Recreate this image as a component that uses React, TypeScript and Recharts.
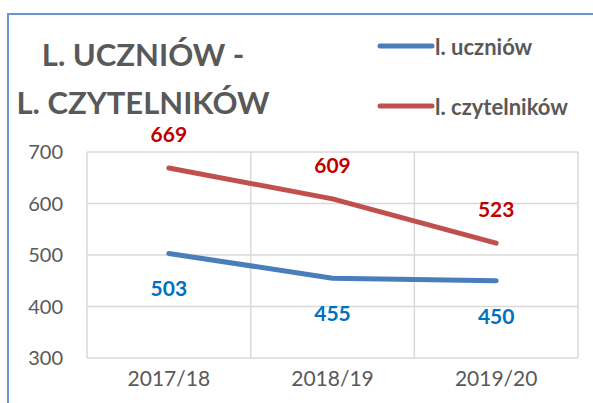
import React from 'react';
import { LineChart, Line, XAxis, YAxis, CartesianGrid, LabelList, Legend } from 'recharts';

const categories = ['2017/18', '2018/19', '2019/20'];
const uczniow = [503, 455, 450];
const czytelnikow = [669, 609, 523];
const yTicks = [300, 400, 500, 600, 700];
const titleLines = ['L. UCZNIÓW -', 'L. CZYTELNIKÓW'];
const seriesOrder = ['u', 'c'];

const data = categories.map((c, i) => ({ cat: c, u: uczniow[i], c: czytelnikow[i] }));

const FONT = 'Lato, "Open Sans", sans-serif';
const CHART_W = 593;
const PLOT_LEFT = 87;
const PLOT_RIGHT_MARGIN = 15;
const HALF_BAND = (CHART_W - PLOT_LEFT - PLOT_RIGHT_MARGIN) / categories.length / 2;

const LegendContent = (props: any) => {
  const payload = [...(props.payload || [])].sort(
    (a: any, b: any) => seriesOrder.indexOf(a.dataKey) - seriesOrder.indexOf(b.dataKey)
  );
  return (
    <div style={{ fontFamily: FONT }}>
      {payload.map((p: any, i: number) => (
        <div key={i} style={{ display: 'flex', alignItems: 'center', height: 60 }}>
          <svg width={58} height={10}>
            <line x1={3} y1={5} x2={55} y2={5} stroke={p.color} strokeWidth={5} strokeLinecap="round" />
          </svg>
          <span style={{ fontSize: 22, fontWeight: 700, color: '#595959' }}>{p.value}</span>
        </div>
      ))}
    </div>
  );
};

export default function App() {
  return (
    <div style={{ position: 'absolute', left: 0, top: 0, width: 593, height: 403, overflow: 'hidden', background: '#fff' }}>
      <div style={{ position: 'absolute', left: 7, top: 13, width: 620, height: 420, border: '2px solid #6a95cf', boxSizing: 'border-box' }} />
      <div style={{ position: 'absolute', left: 0, top: 0 }}>
        <LineChart width={CHART_W} height={403} data={data} margin={{ top: 152, right: PLOT_RIGHT_MARGIN, bottom: 0, left: 0 }}>
          <CartesianGrid
            stroke="#d9d9d9"
            strokeWidth={1.5}
            verticalCoordinatesGenerator={({ offset }: any) =>
              categories.map((_, i) => offset.left + (offset.width * i) / categories.length).concat([offset.left + offset.width])
            }
          />
          <XAxis
            dataKey="cat"
            height={45}
            padding={{ left: HALF_BAND, right: HALF_BAND }}
            axisLine={false}
            tickLine={false}
            tickSize={0}
            tickMargin={13}
            tick={{ fill: '#595959', fontSize: 21, fontFamily: FONT }}
          />
          <YAxis
            width={PLOT_LEFT}
            domain={[300, 700]}
            ticks={yTicks}
            axisLine={false}
            tickLine={false}
            tickSize={0}
            tickMargin={24}
            tick={{ fill: '#595959', fontSize: 20, fontFamily: FONT }}
          />
          <Legend
            layout="horizontal"
            verticalAlign="middle"
            align="center"
            content={<LegendContent />}
            wrapperStyle={{ position: 'absolute', left: 377, top: 16, width: 215 }}
          />
          <Line
            dataKey="u"
            name="l. uczniów"
            stroke="#4a7ebb"
            strokeWidth={5}
            strokeLinecap="round"
            strokeLinejoin="round"
            dot={false}
            activeDot={false}
            isAnimationActive={false}
          >
            <LabelList dataKey="u" position="bottom" offset={28} fill="#0070c0" fontSize={21} fontWeight={700} fontFamily={FONT} />
          </Line>
          <Line
            dataKey="c"
            name="l. czytelników"
            stroke="#c0504d"
            strokeWidth={5}
            strokeLinecap="round"
            strokeLinejoin="round"
            dot={false}
            activeDot={false}
            isAnimationActive={false}
          >
            <LabelList dataKey="c" position="top" offset={26} fill="#c00000" fontSize={21} fontWeight={700} fontFamily={FONT} />
          </Line>
        </LineChart>
      </div>
      <div style={{ position: 'absolute', left: 8, top: 30, width: 270, textAlign: 'center', fontFamily: FONT, fontWeight: 700, fontSize: 31, color: '#595959', lineHeight: '48px' }}>
        {titleLines.map((t, i) => (
          <div key={i}>{t}</div>
        ))}
      </div>
    </div>
  );
}
